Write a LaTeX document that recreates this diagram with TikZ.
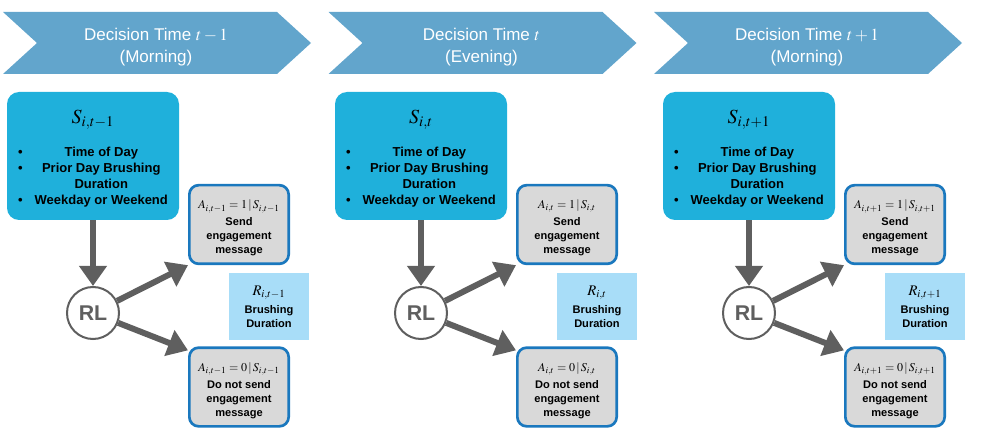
\documentclass[tikz,border=0pt]{standalone}
\usepackage{mathptmx}
\usepackage{fontspec}
\setmainfont{Liberation Sans}
\usetikzlibrary{arrows.meta}
\definecolor{chevblue}{RGB}{98,165,204}
\definecolor{stateblue}{RGB}{31,176,219}
\definecolor{rewardblue}{RGB}{168,221,248}
\definecolor{actedge}{RGB}{26,120,190}
\definecolor{actfill}{RGB}{217,217,217}
\definecolor{arrowgray}{RGB}{95,95,95}
\begin{document}
\begin{tikzpicture}[x=0.75pt, y=-0.75pt,
    titletext/.style={text=white, align=center, font=\fontsize{12.75}{16.5}\selectfont},
    statebox/.style={fill=stateblue, rounded corners=9pt, minimum width=129pt, minimum height=96pt,
        inner sep=0pt, align=center, font=\bfseries\fontsize{9.75}{12}\selectfont},
    actbox/.style={fill=actfill, draw=actedge, line width=2pt, rounded corners=7pt,
        minimum width=74.5pt, minimum height=59pt, inner sep=0pt, align=center,
        font=\bfseries\fontsize{8.3}{10.5}\selectfont},
    rewardbox/.style={fill=rewardblue, minimum width=60pt, minimum height=50pt, inner sep=0pt,
        align=center, font=\bfseries\fontsize{8.3}{10.5}\selectfont},
    rlnode/.style={circle, draw=arrowgray, line width=1.5pt, fill=white, minimum size=39pt,
        inner sep=0pt, text=arrowgray, font=\bfseries\fontsize{16}{18}\selectfont},
    bigarrow/.style={-{Triangle[length=15pt,width=20pt]}, line width=4.5pt, draw=arrowgray}]
    \useasboundingbox (0,0) rectangle (986,442);

    \foreach \k/\sub/\when in {0/t-1/Morning, 1/t/Evening, 2/t+1/Morning} {
        % 1. Chevron with the decision time
        \begin{scope}[xshift={325.5*0.75*\k pt}]
            \fill[chevblue] (3,12) -- (277,12) -- (311,43) -- (277,74) -- (3,74) -- (37,43) -- cycle;
            \node[titletext] (title\k) at (156,47.5) {Decision Time $\sub$\\(\when)};
        \end{scope}

        \begin{scope}[xshift={328*0.75*\k pt}]
            % 2. State box
            \node[statebox] (S\k) at (93,156) {{\fontsize{15}{16}\selectfont\rule{0pt}{15pt}$S_{i,\sub}$}\\[11pt]
                \begin{tabular}[t]{@{}c@{\hspace{9pt}}c@{}}
                    \textbullet & Time of Day\\
                    \textbullet & Prior Day Brushing\\
                                & Duration\\
                    \textbullet & Weekday or Weekend
                \end{tabular}};

            % 3. RL agent, actions and reward
            \node[rlnode] (RL\k) at (93,313) {RL};
            \node[actbox] (send\k) at (239,224.5) {{\mdseries\fontsize{9}{10}\selectfont\rule{0pt}{12pt}$A_{i,\sub}=1\,|\,S_{i,\sub}$}\\[2pt]
                Send\\engagement\\message};
            \node[actbox] (nosend\k) at (239,387) {{\mdseries\fontsize{9}{10}\selectfont\rule{0pt}{12pt}$A_{i,\sub}=0\,|\,S_{i,\sub}$}\\[2pt]
                Do not send\\engagement\\message};
            \node[rewardbox] (R\k) at (269,306.5) {{\mdseries\fontsize{11}{12}\selectfont $R_{i,\sub}$}\\[3pt]
                Brushing\\Duration};

            % 4. Arrows
            \draw[bigarrow] (S\k) -- (RL\k);
            \draw[bigarrow] (RL\k) -- (send\k.south west);
            \draw[bigarrow] (RL\k) -- ([yshift=-3pt]nosend\k.north west);
        \end{scope}
    }
\end{tikzpicture}
\end{document}
